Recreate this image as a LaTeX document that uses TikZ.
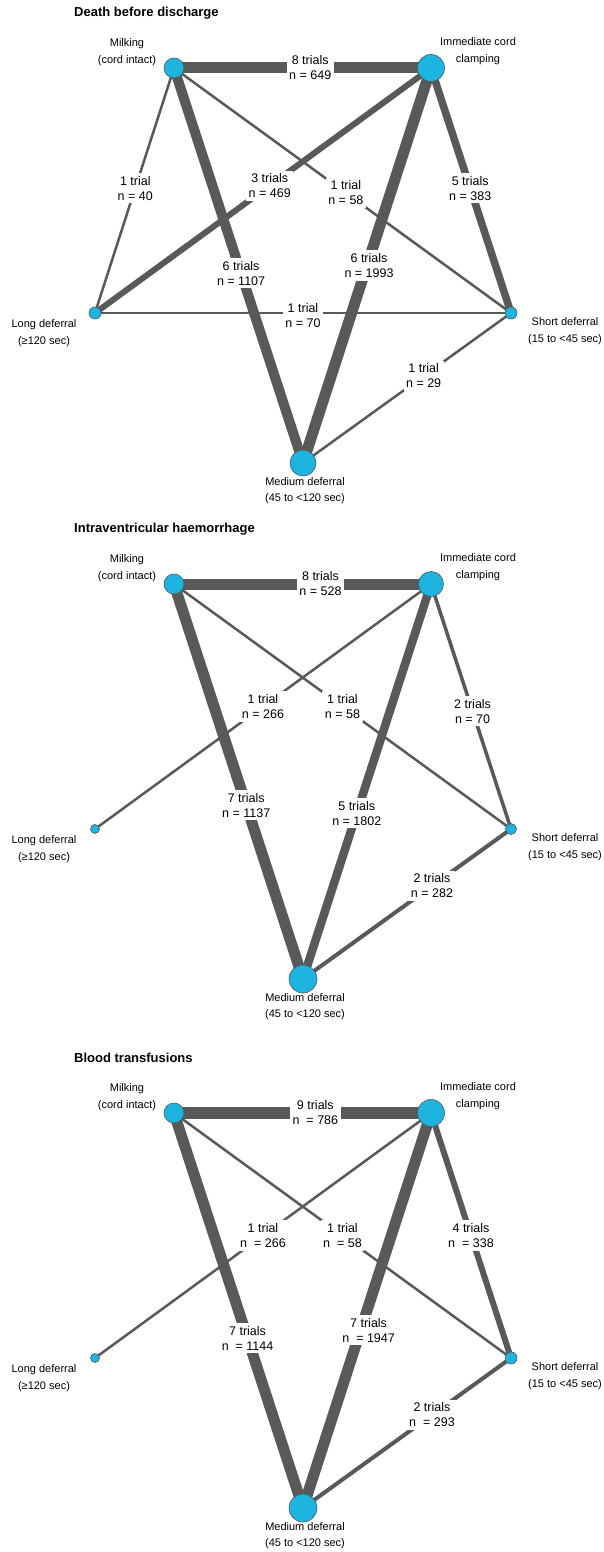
\documentclass[tikz,border=0pt]{standalone}
\usepackage{fontspec}
\setmainfont{Liberation Sans}
\definecolor{nodecyan}{HTML}{1EB4E0}
\definecolor{edgegray}{HTML}{595959}
\definecolor{rimgray}{HTML}{4A5A66}
\pgfdeclarelayer{bglayer}
\pgfdeclarelayer{edgelayer}
\pgfsetlayers{bglayer,edgelayer,main}
\tikzset{
  trt/.style={circle, fill=nodecyan, draw=rimgray, line width=0.6pt, inner sep=0pt, minimum size=#1},
  tlab/.style={align=center, font=\fontsize{11}{17}\selectfont, inner sep=0pt},
  ttl/.style={anchor=west, font=\fontsize{13}{15}\selectfont\bfseries, inner sep=0pt},
  conn/.style={draw=edgegray, line cap=butt},
  elab/.style={fill=white, align=center, inner xsep=2.5pt, inner ysep=3pt, font=\fontsize{12.5}{15}\selectfont},
}
\newcommand\nmapanel[7]{%
  \node[ttl] (#1t) at (74,13) {#2};
  \node[trt=#3] (#1m) at (174,68) {};
  \node[trt=#4] (#1i) at (431,68) {};
  \node[trt=#5] (#1l) at (95,313) {};
  \node[trt=#6] (#1s) at (511,313) {};
  \node[trt=#7] (#1d) at (303,463) {};
  \node[tlab] (#1mt) at (127,52) {Milking\\(cord intact)};
  \node[tlab] (#1it) at (478,51) {Immediate cord\\clamping};
  \node[tlab] (#1lt) at (44,333) {Long deferral\\(≥120 sec)};
  \node[tlab] (#1st) at (565,331) {Short deferral\\(15 to <45 sec)};
  \node[tlab, font=\fontsize{11}{16}\selectfont] (#1dt) at (305,491) {Medium deferral\\(45 to <120 sec)};
}
\newcommand\nmaedge[5]{\draw[conn, line width=#3] (#1.center) -- node[elab, #4] {#5} (#2.center);}
\begin{document}
\begin{tikzpicture}[x=1pt,y=-1pt]
\useasboundingbox (0,0) rectangle (603,1552);
\begin{pgfonlayer}{bglayer}
\fill[white] (0,0) rectangle (603,1552);
\end{pgfonlayer}
% Panel 1
\begin{scope}
\nmapanel{a}{Death before discharge}{20}{27}{12}{12}{26}
\begin{pgfonlayer}{edgelayer}
\nmaedge{am}{ai}{11pt}{pos=0.53}{8 trials\\n = 649}
\nmaedge{am}{al}{2.5pt}{pos=0.49}{1 trial\\n = 40}
\nmaedge{am}{ad}{10pt}{pos=0.52}{6 trials\\n = 1107}
\nmaedge{am}{as}{2.5pt}{pos=0.51}{1 trial\\n = 58}
\nmaedge{ai}{al}{6pt}{pos=0.48}{3 trials\\n = 469}
\nmaedge{ai}{ad}{11pt}{pos=0.50,xshift=2pt}{6 trials\\n = 1993}
\nmaedge{ai}{as}{7.5pt}{pos=0.49}{5 trials\\n = 383}
\nmaedge{al}{as}{2.5pt}{pos=0.50,yshift=-3pt}{1 trial\\n = 70}
\nmaedge{as}{ad}{2.5pt}{pos=0.42}{1 trial\\n = 29}
\end{pgfonlayer}
\end{scope}
% Panel 2
\begin{scope}[shift={(0,516)}]
\nmapanel{b}{Intraventricular haemorrhage}{20}{25}{9}{11}{28}
\begin{pgfonlayer}{edgelayer}
\nmaedge{bm}{bi}{11pt}{pos=0.57}{8 trials\\n = 528}
\nmaedge{bm}{bd}{11pt}{pos=0.56}{7 trials\\n = 1137}
\nmaedge{bm}{bs}{2.5pt}{pos=0.50}{1 trial\\n = 58}
\nmaedge{bi}{bl}{2.5pt}{pos=0.50}{1 trial\\n = 266}
\nmaedge{bi}{bd}{8.5pt}{pos=0.58}{5 trials\\n = 1802}
\nmaedge{bi}{bs}{3.5pt}{pos=0.52}{2 trials\\n = 70}
\nmaedge{bs}{bd}{4pt}{pos=0.38}{2 trials\\n = 282}
\end{pgfonlayer}
\end{scope}
% Panel 3
\begin{scope}[shift={(0,1045)}]
\nmapanel{c}{Blood transfusions}{20}{27}{9}{12}{28}
\begin{pgfonlayer}{edgelayer}
\nmaedge{cm}{ci}{12.5pt}{pos=0.55}{9 trials\\n \ = 786}
\nmaedge{cm}{cd}{11pt}{pos=0.57}{7 trials\\n \ = 1144}
\nmaedge{cm}{cs}{2.5pt}{pos=0.50}{1 trial\\n \ = 58}
\nmaedge{ci}{cl}{2.5pt}{pos=0.50}{1 trial\\n \ = 266}
\nmaedge{ci}{cd}{11pt}{pos=0.55,xshift=8pt}{7 trials\\n \ = 1947}
\nmaedge{ci}{cs}{6pt}{pos=0.50}{4 trials\\n \ = 338}
\nmaedge{cs}{cd}{4pt}{pos=0.38}{2 trials\\n \ = 293}
\end{pgfonlayer}
\end{scope}
\end{tikzpicture}
\end{document}
